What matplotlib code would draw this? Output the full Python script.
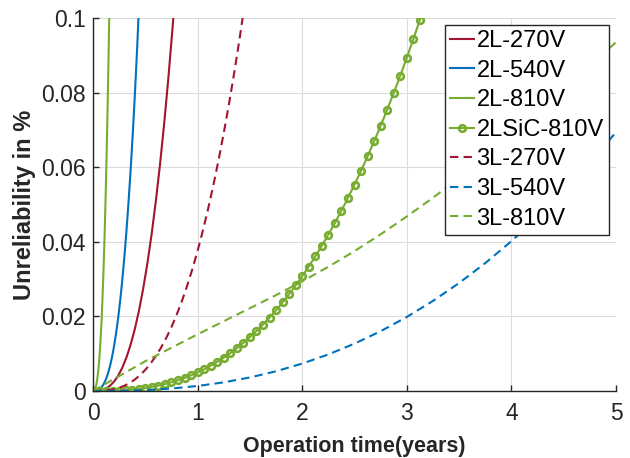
import matplotlib
matplotlib.use("Agg")
import matplotlib.pyplot as plt

plt.rcParams['font.family'] = ['Liberation Sans', 'DejaVu Sans']

# ---- data ----
labels = ['2L-270V', '2L-540V', '2L-810V', '2LSiC-810V', '3L-270V', '3L-540V', '3L-810V']

t_2l270 = [0, 0.04, 0.08, 0.12, 0.16, 0.20, 0.24, 0.28, 0.32, 0.36, 0.40, 0.44,
           0.48, 0.52, 0.56, 0.60, 0.64, 0.68, 0.72, 0.76, 0.80]
y_2l270 = [0, 2.958e-05, 0.00019898, 0.00060686, 0.0013387, 0.0024727, 0.0040824,
           0.0062376, 0.0090054, 0.01245, 0.016633, 0.02162, 0.027465, 0.034224,
           0.04196, 0.050725, 0.060584, 0.071573, 0.083748, 0.097175, 0.1119]

t_2l540 = [0, 0.02, 0.04, 0.06, 0.08, 0.10, 0.12, 0.14, 0.16, 0.18, 0.20, 0.22,
           0.24, 0.26, 0.28, 0.30, 0.32, 0.34, 0.36, 0.38, 0.40, 0.42, 0.44, 0.46]
y_2l540 = [0, 2.0975e-05, 0.0001411, 0.00043032, 0.00094924, 0.0017534, 0.0028948,
           0.0044231, 0.0063857, 0.0088282, 0.01179, 0.01533, 0.01947, 0.02426,
           0.02975, 0.03596, 0.04296, 0.05076, 0.05939, 0.0689, 0.07933, 0.09072,
           0.10312, 0.11652]

t_2l810 = [0, 0.01, 0.02, 0.03, 0.04, 0.05, 0.06, 0.07, 0.08, 0.09, 0.10, 0.11,
           0.12, 0.13, 0.14, 0.15, 0.16, 0.17]
y_2l810 = [0, 8.0132e-05, 0.00048583, 0.0013942, 0.0029455, 0.0052617, 0.0084527,
           0.01262, 0.017858, 0.024257, 0.031901, 0.040872, 0.051248, 0.063104,
           0.076513, 0.091546, 0.10827, 0.12676]

t_sic = [0, 0.0625, 0.125, 0.1875, 0.25, 0.3125, 0.375, 0.4375, 0.5, 0.5625, 0.625,
         0.6875, 0.75, 0.8125, 0.875, 0.9375, 1.0, 1.0625, 1.125, 1.1875, 1.25,
         1.3125, 1.375, 1.4375, 1.5, 1.5625, 1.625, 1.6875, 1.75, 1.8125, 1.875,
         1.9375, 2.0, 2.0625, 2.125, 2.1875, 2.25, 2.3125, 2.375, 2.4375, 2.5,
         2.5625, 2.625, 2.6875, 2.75, 2.8125, 2.875, 2.9375, 3.0, 3.0625, 3.125,
         3.1875, 3.25]
y_sic = [0, 3.3847e-06, 2.0952e-05, 6.0862e-05, 0.0001297, 0.00023324, 0.00037675,
         0.0005651, 0.00080287, 0.0010944, 0.0014438, 0.0018552, 0.0023322,
         0.0028787, 0.0034981, 0.0041941, 0.00497, 0.0058291, 0.0067747, 0.0078099,
         0.0089378, 0.010161, 0.011484, 0.012908, 0.014437, 0.016073, 0.01782,
         0.019679, 0.021654, 0.023748, 0.025963, 0.028301, 0.030766, 0.033359,
         0.036084, 0.038942, 0.041937, 0.04507, 0.048345, 0.051763, 0.055327,
         0.059039, 0.062902, 0.066918, 0.071089, 0.075417, 0.079905, 0.084555,
         0.089369, 0.094349, 0.099497, 0.10482, 0.11031]

t_3l270 = [0, 0.05, 0.10, 0.15, 0.20, 0.25, 0.30, 0.35, 0.40, 0.45, 0.50, 0.55,
           0.60, 0.65, 0.70, 0.75, 0.80, 0.85, 0.90, 0.95, 1.00, 1.05, 1.10, 1.15,
           1.20, 1.25, 1.30, 1.35, 1.40, 1.45, 1.50]
y_3l270 = [0, 1.0552e-05, 7.0005e-05, 0.0002118, 0.00046454, 0.0008542, 0.0014052,
           0.0021404, 0.0030818, 0.0042503, 0.0056674, 0.0073515, 0.0093233,
           0.011599, 0.014201, 0.017143, 0.020446, 0.024126, 0.028202, 0.032687,
           0.0376, 0.042957, 0.048774, 0.055067, 0.061852, 0.069144, 0.07696,
           0.085312, 0.094215, 0.10369, 0.11374]

t_3l540 = [0, 0.25, 0.5, 0.75, 1.0, 1.25, 1.5, 1.75, 2.0, 2.25, 2.5, 2.75, 3.0,
           3.25, 3.5, 3.75, 4.0, 4.25, 4.5, 4.75, 5.0]
y_3l540 = [0, 4.5048e-05, 0.00024615, 0.00066469, 0.001345, 0.0023235, 0.003632,
           0.0052987, 0.0073493, 0.0098078, 0.012696, 0.016036, 0.019846, 0.024146,
           0.028953, 0.034285, 0.040158, 0.046588, 0.053591, 0.061182, 0.069374]

t_3l810 = [0, 0.25, 0.5, 0.75, 1.0, 1.25, 1.5, 1.75, 2.0, 2.25, 2.5, 2.75, 3.0,
           3.25, 3.5, 3.75, 4.0, 4.25, 4.5, 4.75, 5.0]
y_3l810 = [0, 0.0040, 0.0080, 0.0116, 0.0152, 0.0187, 0.0222, 0.0257, 0.0294,
           0.0333, 0.0375, 0.0420, 0.0468, 0.0518, 0.0571, 0.0627, 0.0686,
           0.0747, 0.0810, 0.0873, 0.0935]

x_ticks = [0, 1, 2, 3, 4, 5]
y_ticks = [0, 0.02, 0.04, 0.06, 0.08, 0.1]
y_tick_labels = ['0', '0.02', '0.04', '0.06', '0.08', '0.1']

# ---- style ----
RED = '#A2142F'
BLUE = '#0072BD'
GREEN = '#77AC30'
DASH = (0, (4, 2.5))
lw = 1.5

fig = plt.figure(figsize=(6.3, 4.58), dpi=100)
ax = fig.add_axes([93/630, 1-391/458, 523/630, 373/458])
ax.plot(t_2l270, y_2l270, color=RED, lw=lw, label=labels[0])
ax.plot(t_2l540, y_2l540, color=BLUE, lw=lw, label=labels[1])
ax.plot(t_2l810, y_2l810, color=GREEN, lw=lw, label=labels[2])
ax.plot(t_sic, y_sic, color=GREEN, lw=lw, marker='o', ms=4.8, mfc='none', mew=1.9,
        label=labels[3])
ax.plot(t_3l270, y_3l270, color=RED, lw=lw, ls=DASH, label=labels[4])
ax.plot(t_3l540, y_3l540, color=BLUE, lw=lw, ls=DASH, label=labels[5])
ax.plot(t_3l810, y_3l810, color=GREEN, lw=lw, ls=DASH, label=labels[6])

ax.set_xlim(0, 5)
ax.set_ylim(0, 0.1)
ax.set_xticks(x_ticks)
ax.set_yticks(y_ticks)
ax.set_yticklabels(y_tick_labels)
ax.grid(True, color='#dcdcdc', lw=0.8)
ax.set_axisbelow(True)
for s in ['top', 'right']:
    ax.spines[s].set_visible(False)
for s in ['left', 'bottom']:
    ax.spines[s].set_color('#262626')
    ax.spines[s].set_linewidth(1.0)
ax.tick_params(direction='in', length=4.5, width=1.0, colors='#262626', labelsize=16.5, pad=5)
ax.tick_params(axis='x', pad=8)
ax.set_xlabel('Operation time(years)', fontsize=15.5, fontweight='bold', color='#262626',
              labelpad=8)
ax.set_ylabel('Unreliability in %', fontsize=17, fontweight='bold', color='#262626',
              labelpad=4)

leg = ax.legend(loc='upper right', bbox_to_anchor=((609-93)/523, (391-25)/373),
                fontsize=17, frameon=True, fancybox=False, borderaxespad=0,
                handlelength=1.0, handletextpad=0.12, labelspacing=0.32,
                borderpad=0.22, numpoints=1)
leg.get_frame().set_edgecolor('#262626')
leg.get_frame().set_linewidth(1.0)
leg.get_frame().set_alpha(1)

fig.savefig('out.png', dpi=100)
